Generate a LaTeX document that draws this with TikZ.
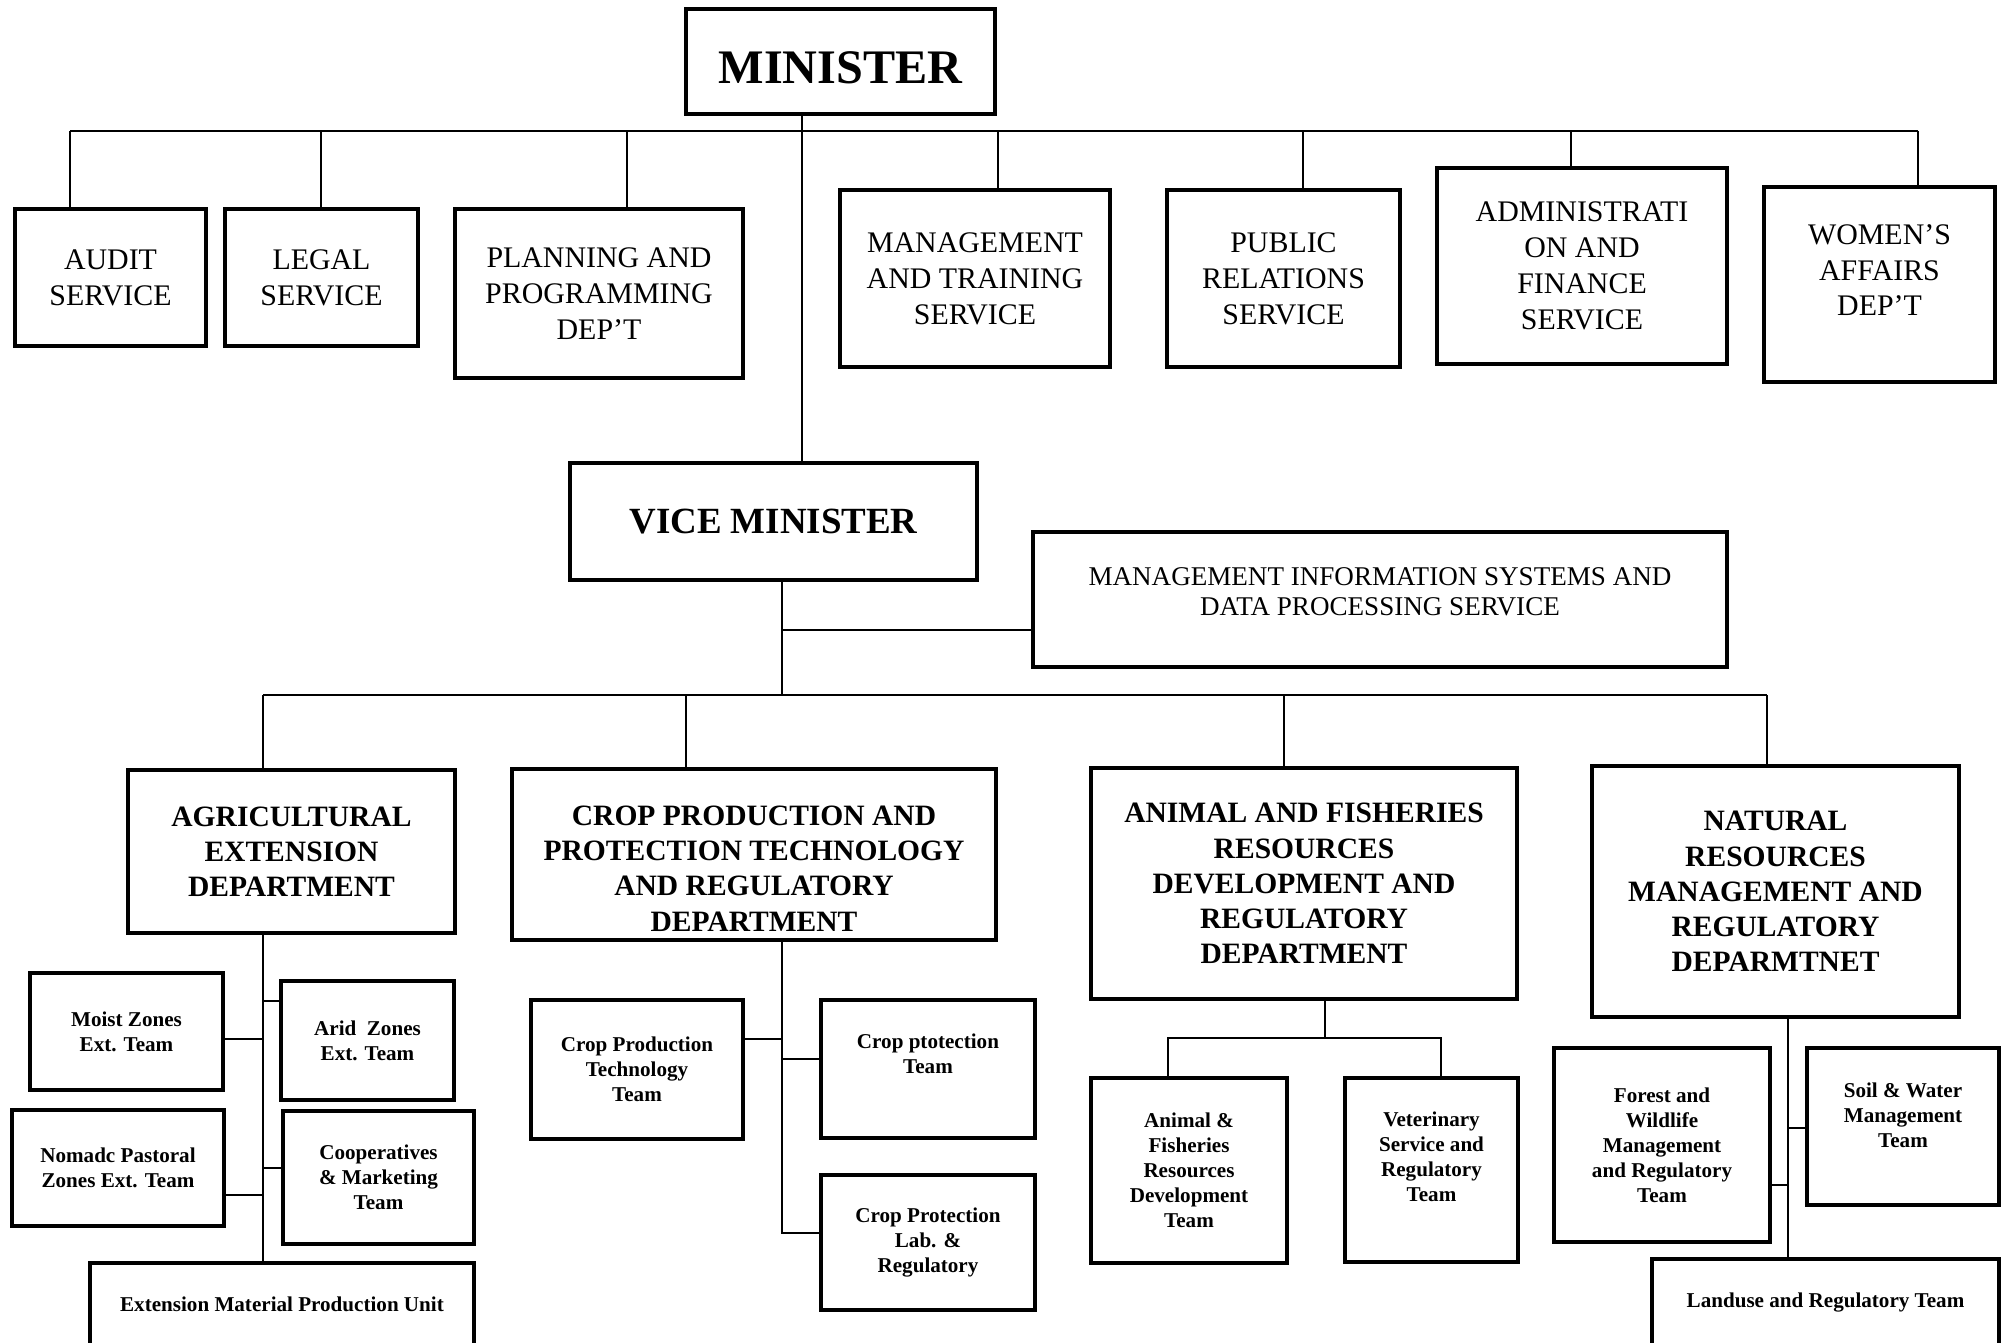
\documentclass[tikz,border=0pt]{standalone}
\usepackage{fontspec}
\setmainfont{Liberation Serif}
\usepackage{tikz}
\usetikzlibrary{positioning}
\tikzset {
  % plain boxes of the chart
  unit/.style = {draw, line width=1pt, inner sep=0pt, align=center,
                 font=\fontsize{8.5}{10.2}\selectfont},
  % minister and vice minister
  head/.style = {unit, font=\bfseries\fontsize{13.7}{16}\selectfont},
  vice/.style = {unit, font=\bfseries\fontsize{10.5}{12}\selectfont},
  mis/.style = {unit, font=\fontsize{7.7}{8.5}\selectfont},
  % departments and their teams
  dept/.style = {unit, font=\bfseries\fontsize{8.4}{10}\selectfont},
  team/.style = {unit, font=\bfseries\fontsize{6}{7.1}\selectfont},
  % box size in cm
  size/.style 2 args = {minimum width=#1cm, minimum height=#2cm},
  % lines between boxes
  link/.style = {line width=0.75pt},
}

\begin{document}
\begin{tikzpicture}[x=0.01cm, y=-0.01cm]
  \useasboundingbox (0,0) rectangle (2003,1343);

  % top level
  \node[head, size={3.09}{1.05}] (minister) at (840.5,61.5) {\rule{0pt}{12.7pt}MINISTER};
  \node[unit, size={1.91}{1.37}] (audit) at (110.5,277.5) {AUDIT\\SERVICE};
  \node[unit, size={1.93}{1.37}] (legal) at (321.5,277.5) {LEGAL\\SERVICE};
  \node[unit, size={2.88}{1.69}] (plan) at (599,293.5) {PLANNING AND\\PROGRAMMING\\DEP’T};
  \node[unit, size={2.70}{1.77}] (mts) at (975,278.5) {MANAGEMENT\\AND TRAINING\\SERVICE};
  \node[unit, size={2.33}{1.77}] (pr) at (1283.5,278.5) {PUBLIC\\RELATIONS\\SERVICE};
  \node[unit, size={2.90}{1.96}] (adf) at (1582,266) {ADMINISTRATI\\ON AND\\FINANCE\\SERVICE};
  \node[unit, size={2.31}{1.95}] (wad) at (1879.5,284.5) {WOMEN’S\\AFFAIRS\\DEP’T\\[-2pt]};

  \node[vice, size={4.07}{1.17}] (vm) at (773.5,521.5) {VICE MINISTER};
  \node[mis, size={6.94}{1.35}] (mis) at (1380,599.5) {MANAGEMENT INFORMATION SYSTEMS AND\\DATA PROCESSING SERVICE\\[-3.9pt]};

  % departments
  \node[dept, size={3.27}{1.63}] (agric) at (291.5,851.5) {AGRICULTURAL\\EXTENSION\\DEPARTMENT};
  \node[dept, size={4.84}{1.71}] (crop) at (754,854.5) {\rule{0pt}{13.6pt}CROP PRODUCTION AND\\PROTECTION TECHNOLOGY\\AND REGULATORY\\DEPARTMENT};
  \node[dept, size={4.26}{2.31}] (animal) at (1304,883.5) {ANIMAL AND FISHERIES\\RESOURCES\\DEVELOPMENT AND\\REGULATORY\\DEPARTMENT};
  \node[dept, size={3.67}{2.51}] (natural) at (1775.5,891.5) {NATURAL\\RESOURCES\\MANAGEMENT AND\\REGULATORY\\DEPARMTNET};

  % teams
  \node[team, size={1.93}{1.17}] (moist) at (126.5,1031.5) {Moist Zones\\Ext. Team};
  \node[team, size={1.73}{1.19}] (arid) at (367.5,1040.5) {Arid\ \ Zones\\Ext. Team};
  \node[team, size={2.12}{1.16}] (nomad) at (118,1168) {Nomadc Pastoral\\Zones Ext. Team};
  \node[team, size={1.91}{1.33}] (coop) at (378.5,1177.5) {Cooperatives\\\& Marketing\\Team};
  \node[team, size={3.84}{0.82}] (empu) at (282,1304) {Extension Material Production Unit};

  \node[team, size={2.12}{1.39}] (cptt) at (637,1069.5) {Crop Production\\Technology\\Team};
  \node[team, size={2.14}{1.38}] (cprot) at (928,1069) {Crop ptotection\\Team\\[1.4pt]};
  \node[team, size={2.14}{1.35}] (clab) at (928,1242.5) {Crop Protection\\Lab. \&\\Regulatory};

  \node[team, size={1.96}{1.85}] (afrd) at (1189,1170.5) {Animal \&\\Fisheries\\Resources\\Development\\Team};
  \node[team, size={1.73}{1.84}] (vet) at (1431.5,1170) {Veterinary\\Service and\\Regulatory\\Team\\[0.3pt]};

  \node[team, size={2.16}{1.94}] (forest) at (1662,1145) {Forest and\\Wildlife\\Management\\and Regulatory\\Team};
  \node[team, size={1.92}{1.57}] (soil) at (1903,1126.5) {Soil \& Water\\Management\\Team\\[-0.5pt]};
  \node[team, size={3.47}{0.86}] (landuse) at (1825.5,1302) {Landuse and Regulatory Team};

  % lines
  \coordinate (topbus) at (0,131);
  \coordinate (lowbus) at (0,695);
  \draw[link] (minister.south -| 802,0) -- (vm.north -| 802,0);
  \draw[link] (topbus -| 70,0) -- (topbus -| 1918,0);
  \foreach \n/\x in {audit/70, legal/321, plan/627, mts/998, pr/1303, adf/1571, wad/1918}
    \draw[link] (topbus -| \x,0) -- (\n.north -| \x,0);

  \draw[link] (vm.south -| 782,0) -- (lowbus -| 782,0);
  \draw[link] (mis.west |- 0,630) -- (782,630);
  \draw[link] (lowbus -| 263,0) -- (lowbus -| 1767,0);
  \foreach \n/\x in {agric/263, crop/686, animal/1284, natural/1767}
    \draw[link] (lowbus -| \x,0) -- (\n.north -| \x,0);

  \draw[link] (agric.south -| 263,0) -- (empu.north -| 263,0);
  \foreach \n/\y in {moist/1039, nomad/1195}
    \draw[link] (\n.east |- 0,\y) -- (263,\y);
  \foreach \n/\y in {arid/1001, coop/1168}
    \draw[link] (\n.west |- 0,\y) -- (263,\y);

  \draw[link] (crop.south -| 782,0) -- (782,1233) -- (clab.west |- 0,1233);
  \draw[link] (cptt.east |- 0,1039) -- (782,1039);
  \draw[link] (cprot.west |- 0,1059) -- (782,1059);

  \draw[link] (animal.south -| 1325,0) -- (1325,1038);
  \draw[link] (afrd.north -| 1168,0) -- (1168,1038) -- (1441,1038) -- (vet.north -| 1441,0);

  \draw[link] (natural.south -| 1788,0) -- (landuse.north -| 1788,0);
  \draw[link] (forest.east |- 0,1185) -- (1788,1185);
  \draw[link] (soil.west |- 0,1128) -- (1788,1128);
\end{tikzpicture}
\end{document}
